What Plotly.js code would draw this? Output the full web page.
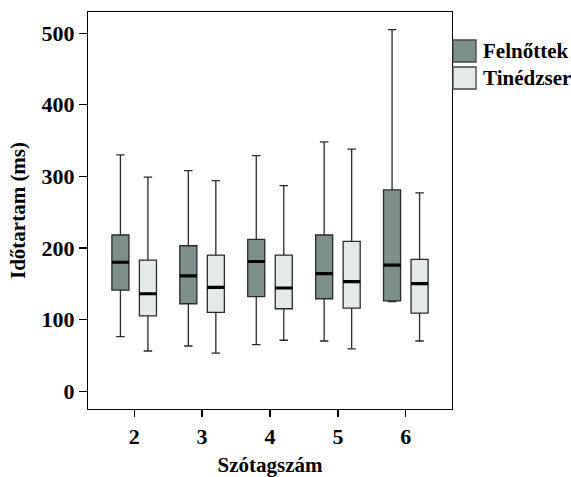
<!DOCTYPE html>
<html>
<head>
<meta charset="utf-8">
<script src="https://cdn.plot.ly/plotly-3.0.1.min.js"></script>
<style>html,body{margin:0;padding:0;background:#fff;}#chart{width:571px;height:477px;}</style>
</head>
<body>
<div id="chart"></div>
<script>
const categories = ["2", "3", "4", "5", "6"];
const seriesNames = ["Felnőttek", "Tinédzser"];

// Felnőttek
const adultLower  = [76, 63, 65, 70, 125];
const adultQ1     = [141, 122, 132, 129, 126];
const adultMedian = [180, 161, 181, 164, 176];
const adultQ3     = [218, 203, 212, 218, 281];
const adultUpper  = [330, 308, 329, 348, 505];

// Tinédzser
const teenLower  = [56, 53, 71, 59, 70];
const teenQ1     = [105, 110, 115, 116, 109];
const teenMedian = [136, 145, 144, 153, 150];
const teenQ3     = [183, 190, 190, 209, 184];
const teenUpper  = [299, 294, 287, 338, 277];

const yTicks = [0, 100, 200, 300, 400, 500];

const fillColors = ["#7c8f8b", "#e3eae7"];
const outline = "#2a2a2a";
const serif = "Liberation Serif, Times New Roman, serif";

function boxTrace(name, lower, q1, med, q3, upper, fill, group) {
  return {
    type: "box", name: name, x: categories, showlegend: false,
    lowerfence: lower, q1: q1, median: med, q3: q3, upperfence: upper,
    fillcolor: fill, line: {color: outline, width: 1.3},
    whiskerwidth: 0.5, boxpoints: false, hoverinfo: "skip",
    offsetgroup: group
  };
}
function medianTrace(med, group) {
  return {
    type: "box", x: categories, showlegend: false,
    lowerfence: med, q1: med, median: med, q3: med, upperfence: med,
    fillcolor: "rgba(0,0,0,0)", line: {color: "#000", width: 3.2},
    whiskerwidth: 0, boxpoints: false, hoverinfo: "skip",
    offsetgroup: group
  };
}

const data = [
  boxTrace(seriesNames[0], adultLower, adultQ1, adultMedian, adultQ3, adultUpper, fillColors[0], "F"),
  boxTrace(seriesNames[1], teenLower, teenQ1, teenMedian, teenQ3, teenUpper, fillColors[1], "T"),
  medianTrace(adultMedian, "F"),
  medianTrace(teenMedian, "T")
];

// manual legend (paper coordinates)
const legendRows = [{y0: 0.874, y1: 0.9295, ty: 0.9018}, {y0: 0.806, y1: 0.8615, ty: 0.8338}];
const shapes = legendRows.map((r, i) => ({
  type: "rect", xref: "paper", yref: "paper",
  x0: 1.0027, x1: 1.066, y0: r.y0, y1: r.y1,
  fillcolor: fillColors[i], line: {color: "#444", width: 1.3}
}));
const annotations = legendRows.map((r, i) => ({
  xref: "paper", yref: "paper", x: 1.0797, y: r.ty,
  xanchor: "left", yanchor: "middle", showarrow: false,
  text: "<b>" + seriesNames[i] + "</b>",
  font: {family: serif, size: 21, color: "#000"}
}));

const layout = {
  width: 571, height: 477,
  font: {family: serif, color: "#000"},
  margin: {l: 88, r: 119, t: 12, b: 68, autoexpand: false},
  paper_bgcolor: "#fff", plot_bgcolor: "#fff",
  boxmode: "group", boxgap: 0.19, boxgroupgap: 0.38,
  showlegend: false,
  shapes: shapes,
  annotations: annotations,
  xaxis: {
    type: "category", range: [-0.68, 4.68],
    showline: true, mirror: true, linecolor: "#000", linewidth: 1.2,
    ticks: "outside", ticklen: 7, tickcolor: "#000", tickwidth: 1.2,
    showgrid: false, zeroline: false,
    tickfont: {family: serif, size: 22, color: "#000", weight: "bold"},
    title: {text: "<b>Szótagszám</b>", font: {family: serif, size: 21, color: "#000"}, standoff: 14}
  },
  yaxis: {
    range: [-25, 529.5], tickvals: yTicks, ticktext: yTicks.map(String),
    showline: true, mirror: true, linecolor: "#000", linewidth: 1.2,
    ticks: "outside", ticklen: 8, tickcolor: "#000", tickwidth: 1.2,
    showgrid: false, zeroline: false,
    tickfont: {family: serif, size: 22, color: "#000", weight: "bold"},
    title: {text: "<b>Időtartam (ms)</b>", font: {family: serif, size: 21, color: "#000"}, standoff: 10}
  }
};

Plotly.newPlot("chart", data, layout, {displayModeBar: false, staticPlot: true});
</script>
</body>
</html>
